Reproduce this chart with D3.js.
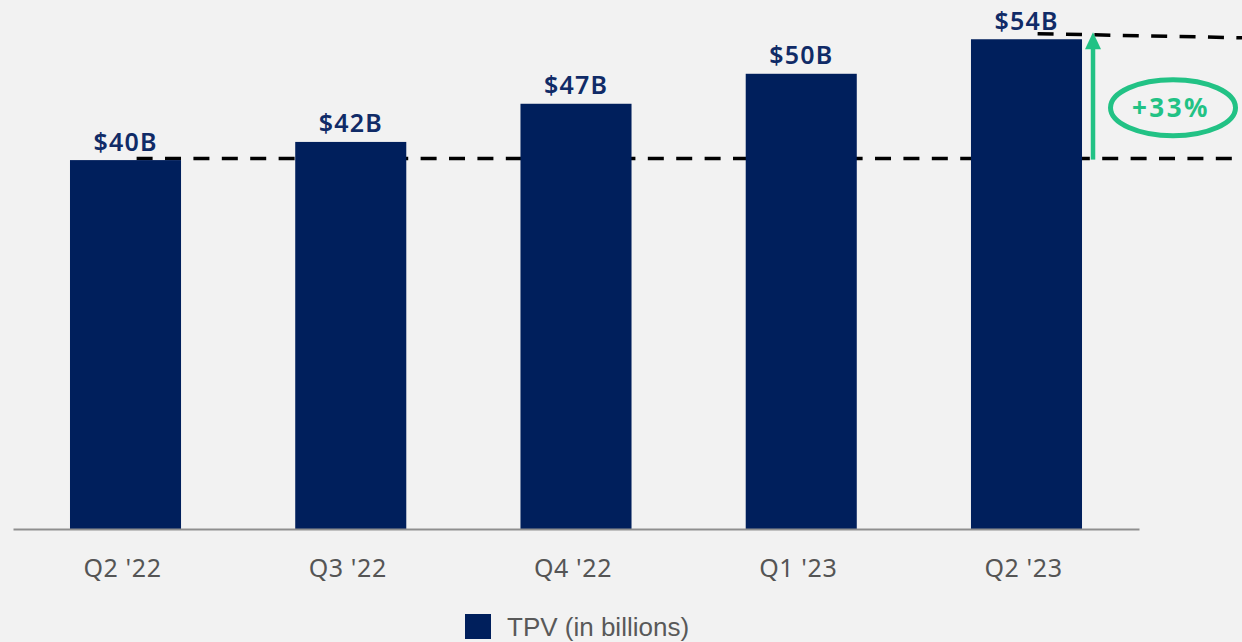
<!DOCTYPE html>
<html>
<head>
<meta charset="utf-8">
<script src="https://cdn.jsdelivr.net/npm/d3@7"></script>
<style>
  html, body { margin: 0; padding: 0; background: #f2f2f2; }
  svg { display: block; }
</style>
</head>
<body>
<svg id="chart" width="1242" height="642"></svg>
<script>
// ---- data ----
const categories = ["Q2 '22", "Q3 '22", "Q4 '22", "Q1 '23", "Q2 '23"];
const tpvValues = [40.6, 42.6, 46.8, 50.1, 53.9];
const valueLabels = ["$40B", "$42B", "$47B", "$50B", "$54B"];
const growthLabel = "+33%";
const legendLabel = "TPV (in billions)";

// ---- styles ----
const barColor = "#001f5c";
const labelColor = "#102b67";
const green = "#22c285";

const svg = d3.select("#chart");
svg.append("rect").attr("width", 1242).attr("height", 642).attr("fill", "#f2f2f2");

const x = d3.scaleBand().domain(categories).range([13, 1139])
  .paddingInner(0.507).paddingOuter(0.253);
const y = d3.scaleLinear().domain([0, 58]).range([529, 2]);

// dashed reference lines (behind bars)
const firstTop = y(tpvValues[0]);
const lastTop = y(tpvValues[tpvValues.length - 1]);
svg.append("line")
  .attr("x1", x(categories[0]) + x.bandwidth() * 0.6).attr("x2", 1242)
  .attr("y1", firstTop - 1.5).attr("y2", firstTop - 1.5)
  .attr("stroke", "#000").attr("stroke-width", 3.5).attr("stroke-dasharray", "16,12.4");
svg.append("line")
  .attr("x1", x(categories[4]) + x.bandwidth() * 0.6).attr("x2", 1242)
  .attr("y1", lastTop - 5.5).attr("y2", lastTop - 1.5)
  .attr("stroke", "#000").attr("stroke-width", 3.5).attr("stroke-dasharray", "16,12.4");

// bars
svg.selectAll("rect.bar").data(tpvValues).enter().append("rect")
  .attr("class", "bar")
  .attr("x", (d, i) => x(categories[i]))
  .attr("y", d => y(d))
  .attr("width", x.bandwidth())
  .attr("height", d => y(0) - y(d))
  .attr("fill", barColor);

// value labels
svg.selectAll("text.val").data(tpvValues).enter().append("text")
  .attr("class", "val")
  .attr("x", (d, i) => x(categories[i]) + x.bandwidth() / 2)
  .attr("y", d => y(d) - 9.5)
  .attr("text-anchor", "middle")
  .attr("font-family", "'Noto Sans', sans-serif")
  .attr("font-weight", 600)
  .attr("font-size", 25)
  .attr("letter-spacing", 1.2)
  .attr("fill", labelColor)
  .text((d, i) => valueLabels[i]);

// x axis
const axis = svg.append("g").attr("transform", "translate(0,529)")
  .call(d3.axisBottom(x).tickSize(0).tickPadding(0));
axis.select(".domain").attr("stroke", "#8f8f8f").attr("stroke-width", 2.2);
axis.selectAll(".tick text")
  .attr("y", 48).attr("dy", 0).attr("dx", -3)
  .attr("font-family", "'Noto Sans', sans-serif")
  .attr("font-size", 25)
  .attr("letter-spacing", 0.6)
  .attr("fill", "#555555");

// growth arrow
const arrowX = x(categories[4]) + x.bandwidth() + 11;
svg.append("line")
  .attr("x1", arrowX).attr("x2", arrowX)
  .attr("y1", firstTop - 0.5).attr("y2", lastTop + 8)
  .attr("stroke", green).attr("stroke-width", 4.5);
svg.append("path")
  .attr("d", `M${arrowX},${lastTop - 7} L${arrowX + 8},${lastTop + 10} L${arrowX - 8},${lastTop + 10} Z`)
  .attr("fill", green);

// ellipse + growth label
const ecx = arrowX + 80, ecy = (firstTop + lastTop) / 2 + 8;
svg.append("ellipse")
  .attr("cx", ecx).attr("cy", ecy).attr("rx", 62.5).attr("ry", 28)
  .attr("fill", "none").attr("stroke", green).attr("stroke-width", 5);
svg.append("text")
  .attr("x", ecx - 2).attr("y", ecy + 9)
  .attr("text-anchor", "middle")
  .attr("font-family", "'Noto Sans', sans-serif")
  .attr("font-weight", 700)
  .attr("font-size", 26)
  .attr("letter-spacing", 2.5)
  .attr("fill", green)
  .text(growthLabel);

// legend
svg.append("rect").attr("x", 465).attr("y", 614).attr("width", 26).attr("height", 25).attr("fill", barColor);
svg.append("text")
  .attr("x", 507).attr("y", 636)
  .attr("font-family", "'Liberation Sans', Arial, sans-serif")
  .attr("font-size", 26)
  .attr("fill", "#595959")
  .text(legendLabel);
</script>
</body>
</html>
